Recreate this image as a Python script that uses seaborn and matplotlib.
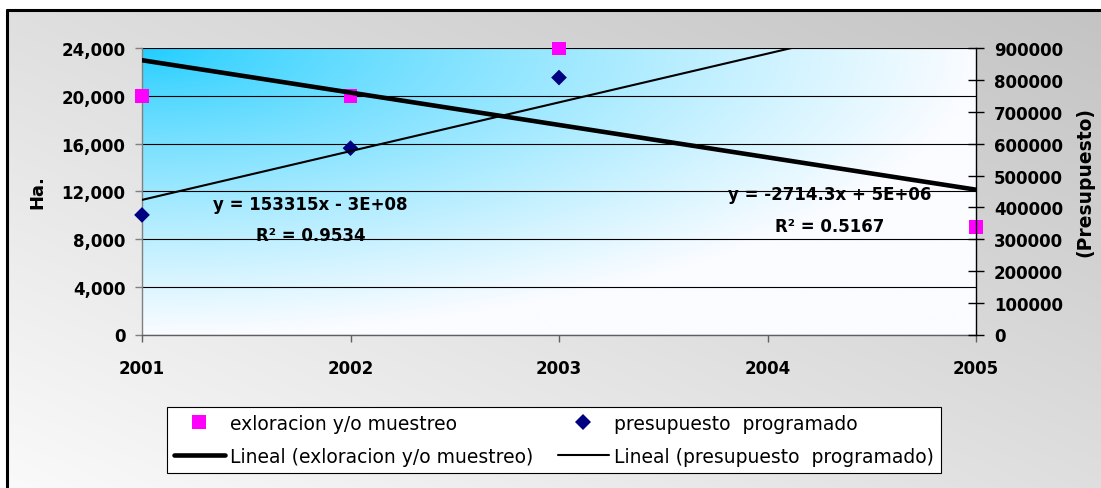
import numpy as np
import pandas as pd
import matplotlib
matplotlib.use("Agg")
import matplotlib.pyplot as plt
from matplotlib.lines import Line2D
from matplotlib.ticker import FuncFormatter, MultipleLocator
import seaborn as sns

# ---- data ----
years = [2001, 2002, 2003, 2004, 2005]
expl_years = [2001, 2002, 2003, 2005]
expl_ha = [20000, 20000, 24000, 9000]            # exloracion y/o muestreo (Ha.)
pres_years = [2001, 2002, 2003]
pres_values = [376000, 586000, 808000]           # presupuesto programado
pres_trend = (153315, -306360000)                # slope, intercept of Lineal (presupuesto)
eq_pres = ["y = 153315x - 3E+08", "R² = 0.9534"]
eq_expl = ["y = -2714.3x + 5E+06", "R² = 0.5167"]
legend_labels = ["exloracion y/o muestreo", "Lineal (exloracion y/o muestreo)",
                 "presupuesto  programado", "Lineal (presupuesto  programado)"]

sns.set_style("white")
plt.rcParams["font.family"] = ["DejaVu Sans"]
plt.rcParams["text.color"] = "black"
plt.rcParams["axes.labelcolor"] = "black"
plt.rcParams["xtick.color"] = "black"
plt.rcParams["ytick.color"] = "black"

W, H = 1101, 489
fig = plt.figure(figsize=(W / 100, H / 100), dpi=100)

# ---- chart-area background: grey diagonal gradient inside a black frame ----
bg = fig.add_axes([0, 0, 1, 1], zorder=-10)
bg.axis("off")
rr, cc = np.mgrid[0:H, 0:W]
s = (cc / W + (1 - rr / H)) / 2
g = 250 - 55 * s
g = np.where((rr >= 11) & (cc >= 7), g, 255) / 255.0
bg.imshow(np.dstack([g, g, g]), extent=[0, 1, 0, 1], aspect="auto",
          interpolation="bilinear")
bg.set_xlim(0, 1)
bg.set_ylim(0, 1)
fig.add_artist(Line2D([7 / W, 7 / W], [0, 1 - 11 / H], color="black", lw=2.2,
                      transform=fig.transFigure))
fig.add_artist(Line2D([7 / W, 1], [1 - 11 / H, 1 - 11 / H], color="black", lw=2.2,
                      transform=fig.transFigure))

# ---- plot area ----
x0, x1, y0, y1 = 142, 976, 49.3, 335.5
ax = fig.add_axes([x0 / W, 1 - y1 / H, (x1 - x0) / W, (y1 - y0) / H])
ax.set_facecolor("none")

# cyan-to-white corner gradient
ny, nx = 200, 400
u = np.linspace(0, 1, nx)[None, :]
v = np.linspace(0, 1, ny)[:, None]
t = np.clip(np.sqrt(u ** 2 + v ** 2), 0, 1) ** 0.8
c0 = np.array([30, 205, 255]) / 255
c1 = np.array([250, 252, 255]) / 255
img = c0[None, None, :] * (1 - t[..., None]) + c1[None, None, :] * t[..., None]
ax.imshow(img, extent=[2001, 2005, 0, 24000], aspect="auto", origin="upper",
          interpolation="bilinear", zorder=0)

ax.set_xlim(2001, 2005)
ax.set_ylim(0, 24000)
ax.set_axisbelow(True)
ax.yaxis.grid(True, color="black", lw=0.8)
ax.xaxis.grid(False)

# exploracion points and fitted trend
expl_df = pd.DataFrame({"year": expl_years, "ha": expl_ha})
sns.scatterplot(data=expl_df, x="year", y="ha", marker="s", s=95, color="#ff00ff",
                edgecolor="none", linewidth=0, ax=ax, clip_on=False, zorder=3,
                legend=False)
slope_e, inter_e = np.polyfit(expl_years, expl_ha, 1)
trend_x = np.array([years[0], years[-1]], dtype=float)
sns.lineplot(x=trend_x, y=slope_e * trend_x + inter_e, color="black", lw=3.3,
             ax=ax, zorder=4, legend=False)

ax.set_xticks(years)
ax.set_xticklabels([str(y) for y in years])
ax.yaxis.set_major_locator(MultipleLocator(4000))
ax.yaxis.set_major_formatter(FuncFormatter(lambda v, p: f"{int(v):,}"))
ax.set_xlabel("")
ax.set_ylabel("")
for sp in ["top", "right"]:
    ax.spines[sp].set_visible(False)
ax.spines["left"].set_color("#808080")
ax.spines["bottom"].set_color("#606060")
ax.spines["left"].set_linewidth(1)
ax.spines["bottom"].set_linewidth(1)
ax.tick_params(axis="y", direction="out", length=5, width=1, color="#808080",
               labelcolor="black", pad=7, labelsize=12, left=True)
ax.tick_params(axis="x", direction="out", length=5, width=1, color="#606060",
               labelcolor="black", pad=13, labelsize=12, bottom=True)
for lab in ax.get_xticklabels() + ax.get_yticklabels():
    lab.set_fontweight("bold")

# ---- secondary axis: presupuesto ----
ax2 = ax.twinx()
ax2.set_ylim(0, 900000)
pres_df = pd.DataFrame({"year": pres_years, "value": pres_values})
sns.scatterplot(data=pres_df, x="year", y="value", marker="D", s=64, color="#000080",
                edgecolor="none", linewidth=0, ax=ax2, clip_on=False, zorder=3,
                legend=False)
sns.lineplot(x=trend_x, y=pres_trend[0] * trend_x + pres_trend[1], color="black",
             lw=1.5, ax=ax2, zorder=4, legend=False)
ax2.set_xlim(2001, 2005)
ax2.set_ylim(0, 900000)
ax2.yaxis.set_major_locator(MultipleLocator(100000))
ax2.yaxis.set_major_formatter(FuncFormatter(lambda v, p: f"{int(v)}"))
ax2.set_ylabel("")
ax2.set_xlabel("")
for sp in ["top", "left", "bottom"]:
    ax2.spines[sp].set_visible(False)
ax2.spines["right"].set_color("black")
ax2.spines["right"].set_linewidth(1)
ax2.tick_params(axis="y", direction="inout", length=12, width=1, color="black",
                labelcolor="black", pad=7, labelsize=12, right=True)
for lab in ax2.get_yticklabels():
    lab.set_fontweight("bold")

# ---- axis titles ----
fig.text(37 / W, 1 - 192 / H, "Ha.", rotation=90, ha="center", va="center",
         fontsize=13, fontweight="bold", color="black")
fig.text(1085 / W, 1 - 182 / H, "(Presupuesto)", rotation=90, ha="center",
         va="center", fontsize=13.5, fontweight="bold", color="black")

# ---- trendline equations ----
for xp, yp, txt in [(310, 205, eq_pres[0]), (311, 236, eq_pres[1]),
                    (830, 195, eq_expl[0]), (830, 227, eq_expl[1])]:
    fig.text(xp / W, 1 - yp / H, txt, ha="center", va="center",
             fontsize=12, fontweight="bold", color="black")

# ---- legend ----
handles = [
    Line2D([], [], marker="s", ls="none", color="#ff00ff", markersize=9.5,
           markeredgewidth=0),
    Line2D([], [], color="black", lw=3.3),
    Line2D([], [], marker="D", ls="none", color="#000080", markersize=8,
           markeredgewidth=0),
    Line2D([], [], color="black", lw=1.5),
]
leg = fig.legend(handles, legend_labels, ncol=2, loc="center",
                 bbox_to_anchor=(554 / W, 1 - 441 / H), frameon=True,
                 fancybox=False, edgecolor="black", framealpha=1,
                 facecolor="white", fontsize=13.5, handlelength=2.7,
                 handletextpad=0.3, columnspacing=1.3, labelspacing=0.75,
                 borderpad=0.35)
leg.get_frame().set_linewidth(0.8)
for txt in leg.get_texts():
    txt.set_color("black")

fig.savefig("out.png", dpi=100)
